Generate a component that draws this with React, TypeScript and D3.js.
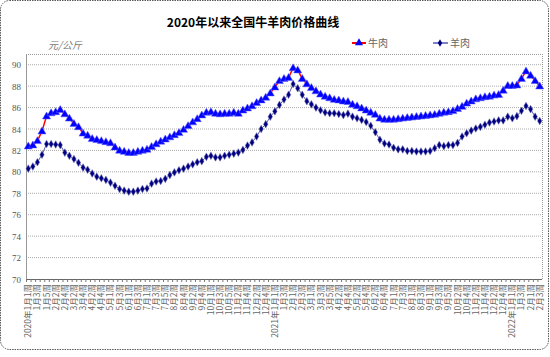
import React from 'react';
import * as d3 from 'd3';

const years = [2020, 2021, 2022];
const weeksPerMonth2020 = [5, 4, 4, 5, 4, 4, 5, 4, 5, 5, 4, 5];
const weeksPerMonth2021 = [4, 4, 5, 4, 4, 5, 4, 4, 5, 4, 4, 5];
const weeksPerMonth2022 = [4, 3];

const beef = [
  82.4, 82.5, 82.9, 83.8, 85.2, 85.5, 85.6, 85.8, 85.4, 85.0,
  84.5, 84.2, 83.6, 83.4, 83.1, 83.0, 82.9, 82.8, 82.7, 82.3,
  82.0, 81.9, 81.8, 81.8, 81.9, 82.0, 82.1, 82.35, 82.6, 82.85,
  83.05, 83.25, 83.45, 83.65, 83.95, 84.3, 84.65, 84.95, 85.3, 85.55,
  85.6, 85.45, 85.4, 85.45, 85.45, 85.55, 85.45, 85.75, 85.95, 86.15,
  86.45, 86.7, 86.95, 87.35, 87.9, 88.5, 88.7, 88.8, 89.7, 89.5,
  88.7, 88.2, 87.85, 87.55, 87.25, 87.05, 86.9, 86.75, 86.7, 86.6,
  86.55, 86.3, 86.15, 85.95, 85.75, 85.55, 85.35, 85.0, 84.9, 84.9,
  84.9, 84.95, 85.0, 85.05, 85.1, 85.15, 85.2, 85.25, 85.3, 85.35,
  85.45, 85.55, 85.6, 85.7, 85.9, 86.1, 86.4, 86.6, 86.8, 86.9,
  87.0, 87.05, 87.15, 87.2, 87.6, 88.05, 88.05, 88.1, 88.7, 89.4,
  89.0, 88.5, 88.0,
];

const mutton = [
  80.3, 80.5, 80.9, 81.6, 82.6, 82.6, 82.55, 82.5, 81.8, 81.5,
  81.2, 80.85, 80.4, 80.2, 79.85, 79.55, 79.4, 79.25, 79.0, 78.7,
  78.4, 78.25, 78.15, 78.15, 78.25, 78.4, 78.45, 78.9, 79.1, 79.15,
  79.35, 79.7, 79.95, 80.15, 80.3, 80.5, 80.7, 80.9, 81.0, 81.4,
  81.5, 81.35, 81.35, 81.5, 81.6, 81.7, 81.8, 82.05, 82.45, 82.75,
  83.3, 84.0, 84.45, 85.15, 85.65, 86.25, 86.75, 87.2, 88.2, 87.8,
  87.2, 86.6, 86.3, 86.0, 85.75, 85.55, 85.47, 85.47, 85.4, 85.3,
  85.43, 85.15, 85.0, 84.85, 84.65, 84.3, 83.7, 83.0, 82.65, 82.55,
  82.25, 82.1, 82.1, 81.95, 81.95, 81.9, 81.9, 81.9, 81.95, 82.2,
  82.5, 82.4, 82.5, 82.5, 82.7, 83.3, 83.6, 83.85, 84.05, 84.2,
  84.4, 84.6, 84.7, 84.8, 84.8, 85.15, 85.0, 85.2, 85.7, 86.15,
  85.85, 85.15, 84.75,
];

const yTicks = [70, 72, 74, 76, 78, 80, 82, 84, 86, 88, 90];
const seriesNames = ['牛肉', '羊肉'];
const title = '2020年以来全国牛羊肉价格曲线';
const unitLabel = '元/公斤';

function buildLabels(): string[] {
  const out: string[] = [];
  const wpm = [weeksPerMonth2020, weeksPerMonth2021, weeksPerMonth2022];
  years.forEach((y, yi) => {
    wpm[yi].forEach((n, mi) => {
      for (let w = 1; w <= n; w++) {
        const base = `${mi + 1}月${w}周`;
        out.push(mi === 0 && w === 1 ? `${y}年${base}` : base);
      }
    });
  });
  return out;
}

const labels = buildLabels();

export default function App() {
  const W = 550, H = 357;
  const left = 26, right = 542, top = 54, bottom = 279;
  const x = d3.scaleBand<number>().domain(labels.map((_, i) => i)).range([left, right]).padding(0);
  const bw = x.bandwidth();
  const cx = (i: number) => (x(i) as number) + bw / 2;
  const y = d3.scaleLinear().domain([70, 91]).range([bottom, top]);

  const line = d3.line<number>().x((_, i) => cx(i)).y((d) => y(d));
  const tri = d3.symbol().type(d3.symbolTriangle).size(28)() as string;
  const dia = d3.symbol().type(d3.symbolDiamond).size(17)() as string;

  const font = '"Noto Sans CJK SC", "Noto Sans", sans-serif';

  return (
    <svg width={W} height={H} style={{ position: 'absolute', left: 0, top: 0, background: '#fff' }} fontFamily={font}>
      <rect x={0.5} y={0.5} width={W - 2} height={349} rx={9} fill="#fff" stroke="#555" strokeDasharray="1.5,1" />
      <text x={253} y={27} textAnchor="middle" fontSize={12} fontWeight="bold" fill="#000">{title}</text>
      <text x={48} y={49} fontSize={10} fontStyle="italic" fill="#777">{unitLabel}</text>

      {/* legend */}
      <line x1={352} x2={366} y1={43} y2={43} stroke="#ff0000" strokeWidth={2} />
      <path d={tri} transform="translate(359,43)" fill="#0000ff" />
      <text x={368} y={47} fontSize={10} fill="#666">{seriesNames[0]}</text>
      <line x1={433} x2={448} y1={43} y2={43} stroke="#8080c8" strokeWidth={2} />
      <path d={dia} transform="translate(440,43)" fill="#000080" />
      <text x={450} y={47} fontSize={10} fill="#666">{seriesNames[1]}</text>

      {/* grid */}
      {yTicks.filter((t) => t > 70).map((t) => (
        <line key={t} x1={left} x2={right} y1={y(t)} y2={y(t)} stroke="#aaa" strokeDasharray="1,1" />
      ))}
      <line x1={left} x2={right} y1={top + 0.5} y2={top + 0.5} stroke="#999" strokeDasharray="1,1" />
      <line x1={right + 0.5} x2={right + 0.5} y1={top} y2={bottom} stroke="#999" strokeDasharray="1,1" />
      <line x1={left + 0.5} x2={left + 0.5} y1={top} y2={bottom} stroke="#999" />
      <line x1={left} x2={right} y1={bottom + 0.5} y2={bottom + 0.5} stroke="#666" />
      {labels.map((_, i) => (
        <line key={i} x1={(x(i) as number) + 0.5} x2={(x(i) as number) + 0.5} y1={bottom} y2={bottom + 3} stroke="#777" />
      ))}

      {yTicks.map((t) => (
        <text key={t} x={21} y={y(t) + 3.5} textAnchor="end" fontSize={9} fill="#555" fontFamily='"Liberation Serif", serif'>{t}</text>
      ))}

      {labels.map((l, i) => (i % 2 === 0 ? (
        <text key={i} transform={`translate(${cx(i) + 3},${bottom + 5}) rotate(-90)`} textAnchor="end" fontSize={8.5} fill="#666">{l}</text>
      ) : null))}

      {/* series */}
      <path d={line(mutton) as string} fill="none" stroke="#5858a8" strokeWidth={1} />
      {mutton.map((v, i) => (
        <path key={i} d={dia} transform={`translate(${cx(i)},${y(v)})`} fill="#000080" stroke="#6a6ab8" strokeWidth={0.5} />
      ))}
      <path d={line(beef) as string} fill="none" stroke="#ff0000" strokeWidth={1.5} />
      {beef.map((v, i) => (
        <path key={i} d={tri} transform={`translate(${cx(i)},${y(v) + 0.5})`} fill="#0000ff" stroke="#5a5aff" strokeWidth={0.5} />
      ))}
    </svg>
  );
}
